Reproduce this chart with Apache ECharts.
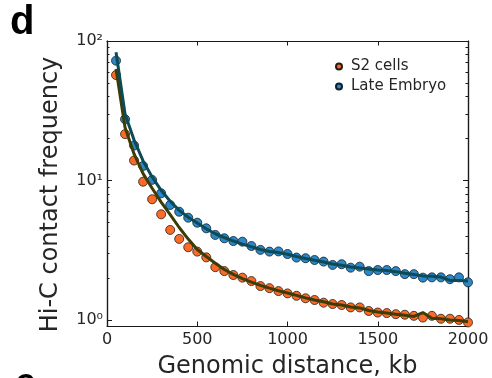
<!DOCTYPE html>
<html>
<head>
<meta charset="utf-8">
<script src="https://cdn.jsdelivr.net/npm/echarts@6/dist/echarts.min.js"></script>
<style>html,body{margin:0;padding:0;background:#fff}#c{width:492px;height:378px}</style>
</head>
<body>
<div id="c"></div>
<script>
const distKb = [50,100,150,200,250,300,350,400,450,500,550,600,650,700,750,800,850,900,950,1000,
  1050,1100,1150,1200,1250,1300,1350,1400,1450,1500,1550,1600,1650,1700,1750,1800,1850,1900,1950,2000];
const s2Cells = [57,21.5,13.9,9.8,7.33,5.72,4.42,3.81,3.32,3.09,2.81,2.39,2.24,2.10,2.01,1.90,1.75,1.69,1.61,1.55,
  1.49,1.43,1.39,1.33,1.30,1.28,1.23,1.23,1.16,1.13,1.12,1.10,1.09,1.07,1.04,1.07,1.02,1.02,1.00,0.96];
const lateEmbryo = [72.3,27.5,17.8,12.7,10.1,8.09,6.67,5.97,5.41,4.98,4.54,4.07,3.85,3.68,3.64,3.39,3.18,3.09,3.10,2.97,
  2.80,2.77,2.69,2.62,2.48,2.51,2.37,2.41,2.24,2.28,2.28,2.24,2.13,2.13,2.01,2.02,2.02,1.96,2.02,1.86];
const s2Fit = [63,24,15.5,11.2,8.8,7.0,5.7,4.6,3.8,3.2,2.85,2.55,2.3,2.12,1.98,1.87,1.77,1.69,1.62,1.56,
  1.50,1.44,1.39,1.35,1.30,1.28,1.24,1.22,1.17,1.14,1.12,1.10,1.08,1.06,1.13,1.03,1.02,1.00,0.99,0.97];
const embryoFit = [83,30,19.5,13.8,10.6,8.5,7.1,6.1,5.45,4.95,4.5,4.15,3.9,3.68,3.5,3.35,3.2,3.1,3.04,2.96,
  2.85,2.76,2.68,2.6,2.52,2.47,2.4,2.36,2.32,2.28,2.26,2.22,2.16,2.12,2.07,2.06,2.03,1.92,1.92,1.90];
const xTicks = [0,500,1000,1500,2000];
const yMajor = [1,10,100];
const yMajorLabels = ['10⁰','10¹','10²'];
const yMinor = [2,3,4,5,6,7,8,9,20,30,40,50,60,70,80,90];
const seriesNames = ['S2 cells','Late Embryo'];

const FONT = 'DejaVu Sans';
const TXT = '#262626';
const AX = '#1a1a1a';
const pair = arr => distKb.map((x,i)=>[x,arr[i]]);

const yBase = {type:'log', logBase:10, min:0.905, max:100, gridIndex:0,
  axisLine:{show:true, lineStyle:{color:AX,width:1.2}}, splitLine:{show:false}, minorTick:{show:false}};

const chart = echarts.init(document.getElementById('c'), null, {renderer:'canvas'});
chart.setOption({
  animation:false,
  backgroundColor:'#fff',
  grid:{left:107, right:24, top:41, bottom:52, containLabel:false, outerBoundsMode:'none'},
  textStyle:{fontFamily:FONT},
  legend:{
    data:seriesNames, orient:'vertical', left:330, top:54, itemGap:5,
    icon:'circle', itemWidth:14, itemHeight:6,
    textStyle:{fontFamily:FONT, fontSize:15, color:TXT}
  },
  xAxis:[
    {type:'value', min:0, max:2000, interval:500, position:'bottom',
     axisLine:{show:true,lineStyle:{color:AX,width:1.2}},
     axisTick:{show:true, inside:true, length:4.5, customValues:xTicks, lineStyle:{color:AX}},
     axisLabel:{fontFamily:FONT, fontSize:16, color:TXT, margin:6, customValues:xTicks, formatter: v => String(v)},
     splitLine:{show:false},
     name:'Genomic distance, kb', nameLocation:'middle', nameGap:29,
     nameTextStyle:{fontFamily:FONT, fontSize:24, color:TXT}},
    {type:'value', min:0, max:2000, interval:500, position:'top',
     axisLine:{show:true,lineStyle:{color:AX,width:1.2}},
     axisTick:{show:true, inside:true, length:4.5, lineStyle:{color:AX}},
     axisLabel:{show:false}, splitLine:{show:false}}
  ],
  yAxis:[
    Object.assign({}, yBase, {position:'left',
      axisTick:{show:true, inside:true, length:5, customValues:yMajor, lineStyle:{color:AX}},
      axisLabel:{show:true, customValues:yMajor, fontFamily:FONT, fontSize:16, color:TXT, margin:4,
        formatter: v => yMajorLabels[yMajor.indexOf(Math.round(v))]},
      name:'Hi-C contact frequency', nameLocation:'middle', nameGap:44,
      nameTextStyle:{fontFamily:FONT, fontSize:24, color:TXT, padding:[0,22,0,0]}}),
    Object.assign({}, yBase, {position:'left',
      axisTick:{show:true, inside:true, length:2.5, customValues:yMinor, lineStyle:{color:AX}},
      axisLabel:{show:false}}),
    Object.assign({}, yBase, {position:'right',
      axisTick:{show:true, inside:true, length:5, customValues:yMajor, lineStyle:{color:AX}},
      axisLabel:{show:false}}),
    Object.assign({}, yBase, {position:'right',
      axisTick:{show:true, inside:true, length:2.5, customValues:yMinor, lineStyle:{color:AX}},
      axisLabel:{show:false}})
  ],
  graphic:[
    {type:'text', left:10, top:3, style:{text:'d', font:'bold 40px "Liberation Sans", Arial, sans-serif', fill:'#000'}},
    {type:'text', left:15, top:366, style:{text:'e', font:'bold 38px "Liberation Sans", Arial, sans-serif', fill:'#000'}}
  ],
  series:[
    {name:seriesNames[0], type:'scatter', xAxisIndex:0, yAxisIndex:0, data:pair(s2Cells),
     symbol:'circle', symbolSize:9, z:2,
     itemStyle:{color:'#fc6a28', borderColor:'#2a1a10', borderWidth:0.8, opacity:1}},
    {name:seriesNames[1], type:'scatter', xAxisIndex:0, yAxisIndex:0, data:pair(lateEmbryo),
     symbol:'circle', symbolSize:9, z:2,
     itemStyle:{color:'#2c88c9', borderColor:'#0e1e2a', borderWidth:0.8, opacity:1}},
    {name:'S2 fit', type:'line', xAxisIndex:0, yAxisIndex:0, data:pair(s2Fit), showSymbol:false, symbol:'none',
     z:3, lineStyle:{color:'#3d3c06', width:3}},
    {name:'Embryo fit', type:'line', xAxisIndex:0, yAxisIndex:0, data:pair(embryoFit), showSymbol:false, symbol:'none',
     z:3, lineStyle:{color:'#0c4a55', width:3}}
  ]
});
</script>
</body>
</html>
